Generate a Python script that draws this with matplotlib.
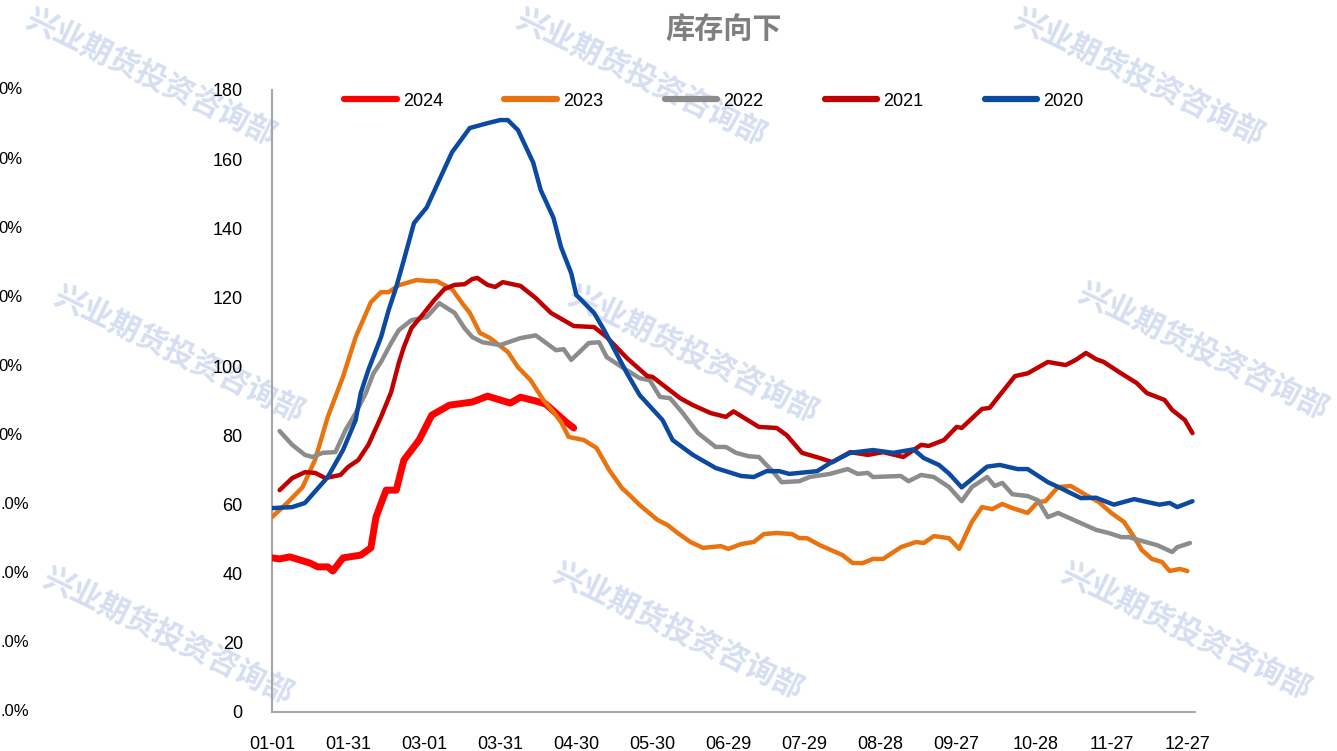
import matplotlib
matplotlib.use("Agg")
import matplotlib.pyplot as plt

plt.rcParams['font.family'] = ['Liberation Sans', 'Noto Sans CJK SC', 'DejaVu Sans']

# x = day of year (0 = 01-01)
tick_days = [0, 30, 60, 90, 120, 150, 180, 210, 240, 270, 301, 331, 361]
tick_labels = ["01-01", "01-31", "03-01", "03-31", "04-30", "05-30", "06-29",
               "07-29", "08-28", "09-27", "10-28", "11-27", "12-27"]

d2024 = [0, 3, 7, 11, 15, 18, 22, 24, 28, 35, 39, 41, 45, 49, 52, 58, 63, 70, 79, 85,
         94, 98, 104, 108, 112, 116, 119]
v2024 = [44.6, 44.3, 44.9, 44.0, 43.1, 42.0, 42.0, 40.8, 44.6, 45.4, 47.5, 56.4, 64.2,
         64.2, 72.9, 78.7, 85.9, 88.8, 89.7, 91.4, 89.4, 91.1, 90.0, 89.1, 86.5, 83.9, 82.2]

d2023 = [0, 6, 12, 17, 22, 28, 33, 39, 43, 46, 50, 57, 62, 65, 71, 75, 78, 82, 86, 93,
         97, 102, 107, 111, 114, 117, 123, 128, 133, 138, 141, 145, 152, 156, 160, 165,
         170, 177, 180, 185, 190, 194, 199, 205, 208, 211, 216, 225, 229, 233, 237, 241,
         248, 254, 257, 261, 267, 271, 276, 280, 284, 288, 292, 298, 302, 305, 310, 315,
         321, 326, 331, 336, 340, 343, 347, 351, 354, 358, 361]
v2023 = [56.4, 60.5, 65.0, 73.0, 85.4, 97.0, 108.5, 118.6, 121.5, 121.5, 123.5, 125.0,
         124.7, 124.7, 122.4, 118.3, 115.5, 109.7, 108.2, 104.2, 99.8, 96.0, 90.3, 86.8,
         83.9, 79.6, 78.7, 76.4, 70.0, 64.8, 62.8, 59.9, 55.6, 54.1, 51.8, 49.2, 47.5,
         48.0, 47.2, 48.6, 49.2, 51.5, 51.8, 51.5, 50.3, 50.3, 48.3, 45.4, 43.1, 43.1,
         44.3, 44.3, 47.7, 49.2, 48.9, 50.9, 50.3, 47.2, 55.0, 59.3, 58.7, 60.2, 59.0,
         57.6, 60.8, 61.0, 65.1, 65.4, 62.8, 60.8, 57.6, 55.0, 50.6, 46.9, 44.3, 43.4,
         40.8, 41.4, 40.8]

d2022 = [3, 8, 13, 16, 20, 25, 29, 33, 37, 40, 43, 47, 50, 55, 61, 66, 72, 76, 79, 83,
         90, 98, 104, 112, 115, 118, 125, 129, 132, 138, 145, 149, 153, 157, 162, 168,
         175, 179, 183, 188, 192, 198, 201, 208, 212, 220, 227, 231, 235, 237, 248, 251,
         256, 261, 267, 272, 276, 282, 285, 288, 292, 298, 302, 306, 310, 317, 325, 330,
         335, 338, 343, 349, 355, 357, 362]
v2022 = [81.3, 77.3, 74.4, 73.8, 75.0, 75.2, 81.6, 86.5, 92.3, 98.0, 101.3, 106.8, 110.5,
         113.4, 114.3, 118.3, 115.5, 111.0, 108.5, 107.0, 106.2, 108.2, 109.0, 104.7,
         105.0, 101.9, 106.8, 107.0, 102.7, 99.8, 96.6, 96.0, 91.2, 90.8, 86.5, 80.7,
         76.7, 76.7, 75.0, 74.0, 73.8, 69.2, 66.5, 66.8, 68.0, 68.9, 70.3, 68.9, 69.2,
         68.0, 68.3, 66.8, 68.6, 68.0, 65.1, 61.0, 65.1, 68.0, 65.4, 66.3, 63.0, 62.5,
         61.3, 56.4, 57.6, 55.3, 52.7, 51.8, 50.6, 50.6, 49.5, 48.3, 46.3, 47.7, 48.9]

d2021 = [3, 8, 13, 17, 21, 27, 30, 34, 38, 43, 47, 50, 52, 55, 60, 64, 68, 72, 76, 79,
         81, 85, 88, 91, 98, 104, 110, 119, 127, 132, 140, 148, 150, 161, 166, 173, 179,
         182, 192, 199, 203, 209, 216, 221, 228, 235, 241, 249, 256, 259, 265, 270, 272,
         280, 283, 287, 293, 298, 306, 313, 317, 321, 325, 328, 334, 341, 345, 352, 355,
         360, 363]
v2021 = [64.2, 67.7, 69.4, 69.2, 67.7, 68.6, 70.9, 72.9, 77.3, 85.4, 92.6, 101.0, 105.6,
         111.1, 115.5, 119.2, 122.4, 123.6, 123.8, 125.3, 125.6, 123.6, 123.0, 124.4,
         123.3, 119.8, 115.5, 111.7, 111.4, 108.5, 102.4, 97.2, 97.0, 90.8, 88.8, 86.5,
         85.4, 87.0, 82.5, 82.2, 80.1, 75.0, 73.5, 72.3, 75.2, 74.4, 75.2, 73.8, 77.3,
         77.0, 78.7, 82.5, 82.2, 87.7, 88.0, 91.7, 97.2, 98.0, 101.3, 100.4, 101.9, 103.9,
         102.1, 101.3, 98.4, 95.2, 92.3, 90.3, 87.4, 84.5, 80.7]

d2020 = [0, 8, 13, 22, 28, 33, 35, 38, 43, 46, 49, 52, 56, 61, 71, 78, 85, 90, 93, 97,
         103, 106, 111, 114, 118, 120, 127, 131, 140, 145, 154, 158, 166, 175, 185, 190,
         195, 200, 204, 215, 220, 228, 237, 245, 253, 257, 263, 267, 272, 282, 287, 294,
         298, 306, 311, 319, 325, 332, 340, 350, 354, 357, 363]
v2020 = [59.0, 59.3, 60.5, 68.0, 75.8, 84.5, 92.3, 99.0, 108.5, 116.3, 123.0, 130.8,
         141.5, 146.0, 162.0, 169.0, 170.4, 171.3, 171.3, 168.4, 159.0, 151.0, 143.0,
         134.5, 127.0, 120.7, 115.5, 110.5, 98.0, 91.7, 84.5, 78.7, 74.4, 70.6, 68.3,
         68.0, 69.7, 69.7, 68.9, 69.7, 72.0, 75.0, 75.8, 75.0, 76.0, 73.5, 71.5, 69.0,
         65.0, 71.0, 71.5, 70.3, 70.3, 66.5, 64.8, 61.9, 62.0, 60.0, 61.6, 60.0, 60.5,
         59.3, 61.0]

series = [
    ("2024", d2024, v2024, "#FF0000", 5.0),
    ("2023", d2023, v2023, "#E8730F", 3.2),
    ("2022", d2022, v2022, "#8C8C8C", 3.2),
    ("2021", d2021, v2021, "#C00000", 3.2),
    ("2020", d2020, v2020, "#0B4AA0", 3.2),
]

W, H = 1337, 751
fig = plt.figure(figsize=(W / 100, H / 100), dpi=100)
ax = fig.add_axes([272 / W, 1 - 712 / H, (1195 - 272) / W, (712 - 90) / H])

for name, d, v, col, lw in series:
    ax.plot(d, v, color=col, lw=lw, label=name, solid_capstyle="round",
            solid_joinstyle="round", zorder=3)

ax.set_xlim(0, 364)
ax.set_ylim(0, 180)
ax.set_yticks(range(0, 181, 20))
ax.set_xticks(tick_days)
ax.set_xticklabels(tick_labels)
ax.tick_params(length=0, labelsize=13)
ax.tick_params(axis="x", pad=17)
ax.tick_params(axis="y", pad=21)
for s in ["top", "right"]:
    ax.spines[s].set_visible(False)
for s in ["left", "bottom"]:
    ax.spines[s].set_color("#A6A6A6")
    ax.spines[s].set_linewidth(1.5)

leg = ax.legend(loc="center", bbox_to_anchor=((714 - 272) / 923, 1 - 11 / 622), ncol=5,
                frameon=False, fontsize=13, handlelength=2.9, handletextpad=0.35,
                columnspacing=3.4)
for h in leg.get_lines():
    h.set_linewidth(4.5)

fig.text(724 / W, 1 - 31 / H, "库存向下", ha="center", va="center", fontsize=21,
         fontweight="bold", color="#7F7F7F")

# cut-off secondary axis labels on the far left
left_labels = ["0%", "0%", "0%", "0%", "0%", "0%", ".0%", ".0%", ".0%", ".0%"]
for i, lab in enumerate(left_labels):
    px = 23 if lab == "0%" else 29
    ax.text(px / W, 1 - (90 + (712 - 90) * i / 9) / H, lab, transform=fig.transFigure,
            ha="right", va="center", fontsize=12, color="black")

# watermarks
wm_pos = [(150, 78), (640, 78), (1138, 78), (178, 355), (692, 355), (1202, 352),
          (167, 637), (677, 632), (1185, 632)]
for x, y in wm_pos:
    ax.text(x / W, 1 - y / H, "兴业期货投资咨询部", transform=fig.transFigure,
            ha="center", va="center", rotation=-26, fontsize=22, fontweight="bold",
            color="#D5DFF1", zorder=1, clip_on=False)

fig.savefig("out.png", dpi=100)
